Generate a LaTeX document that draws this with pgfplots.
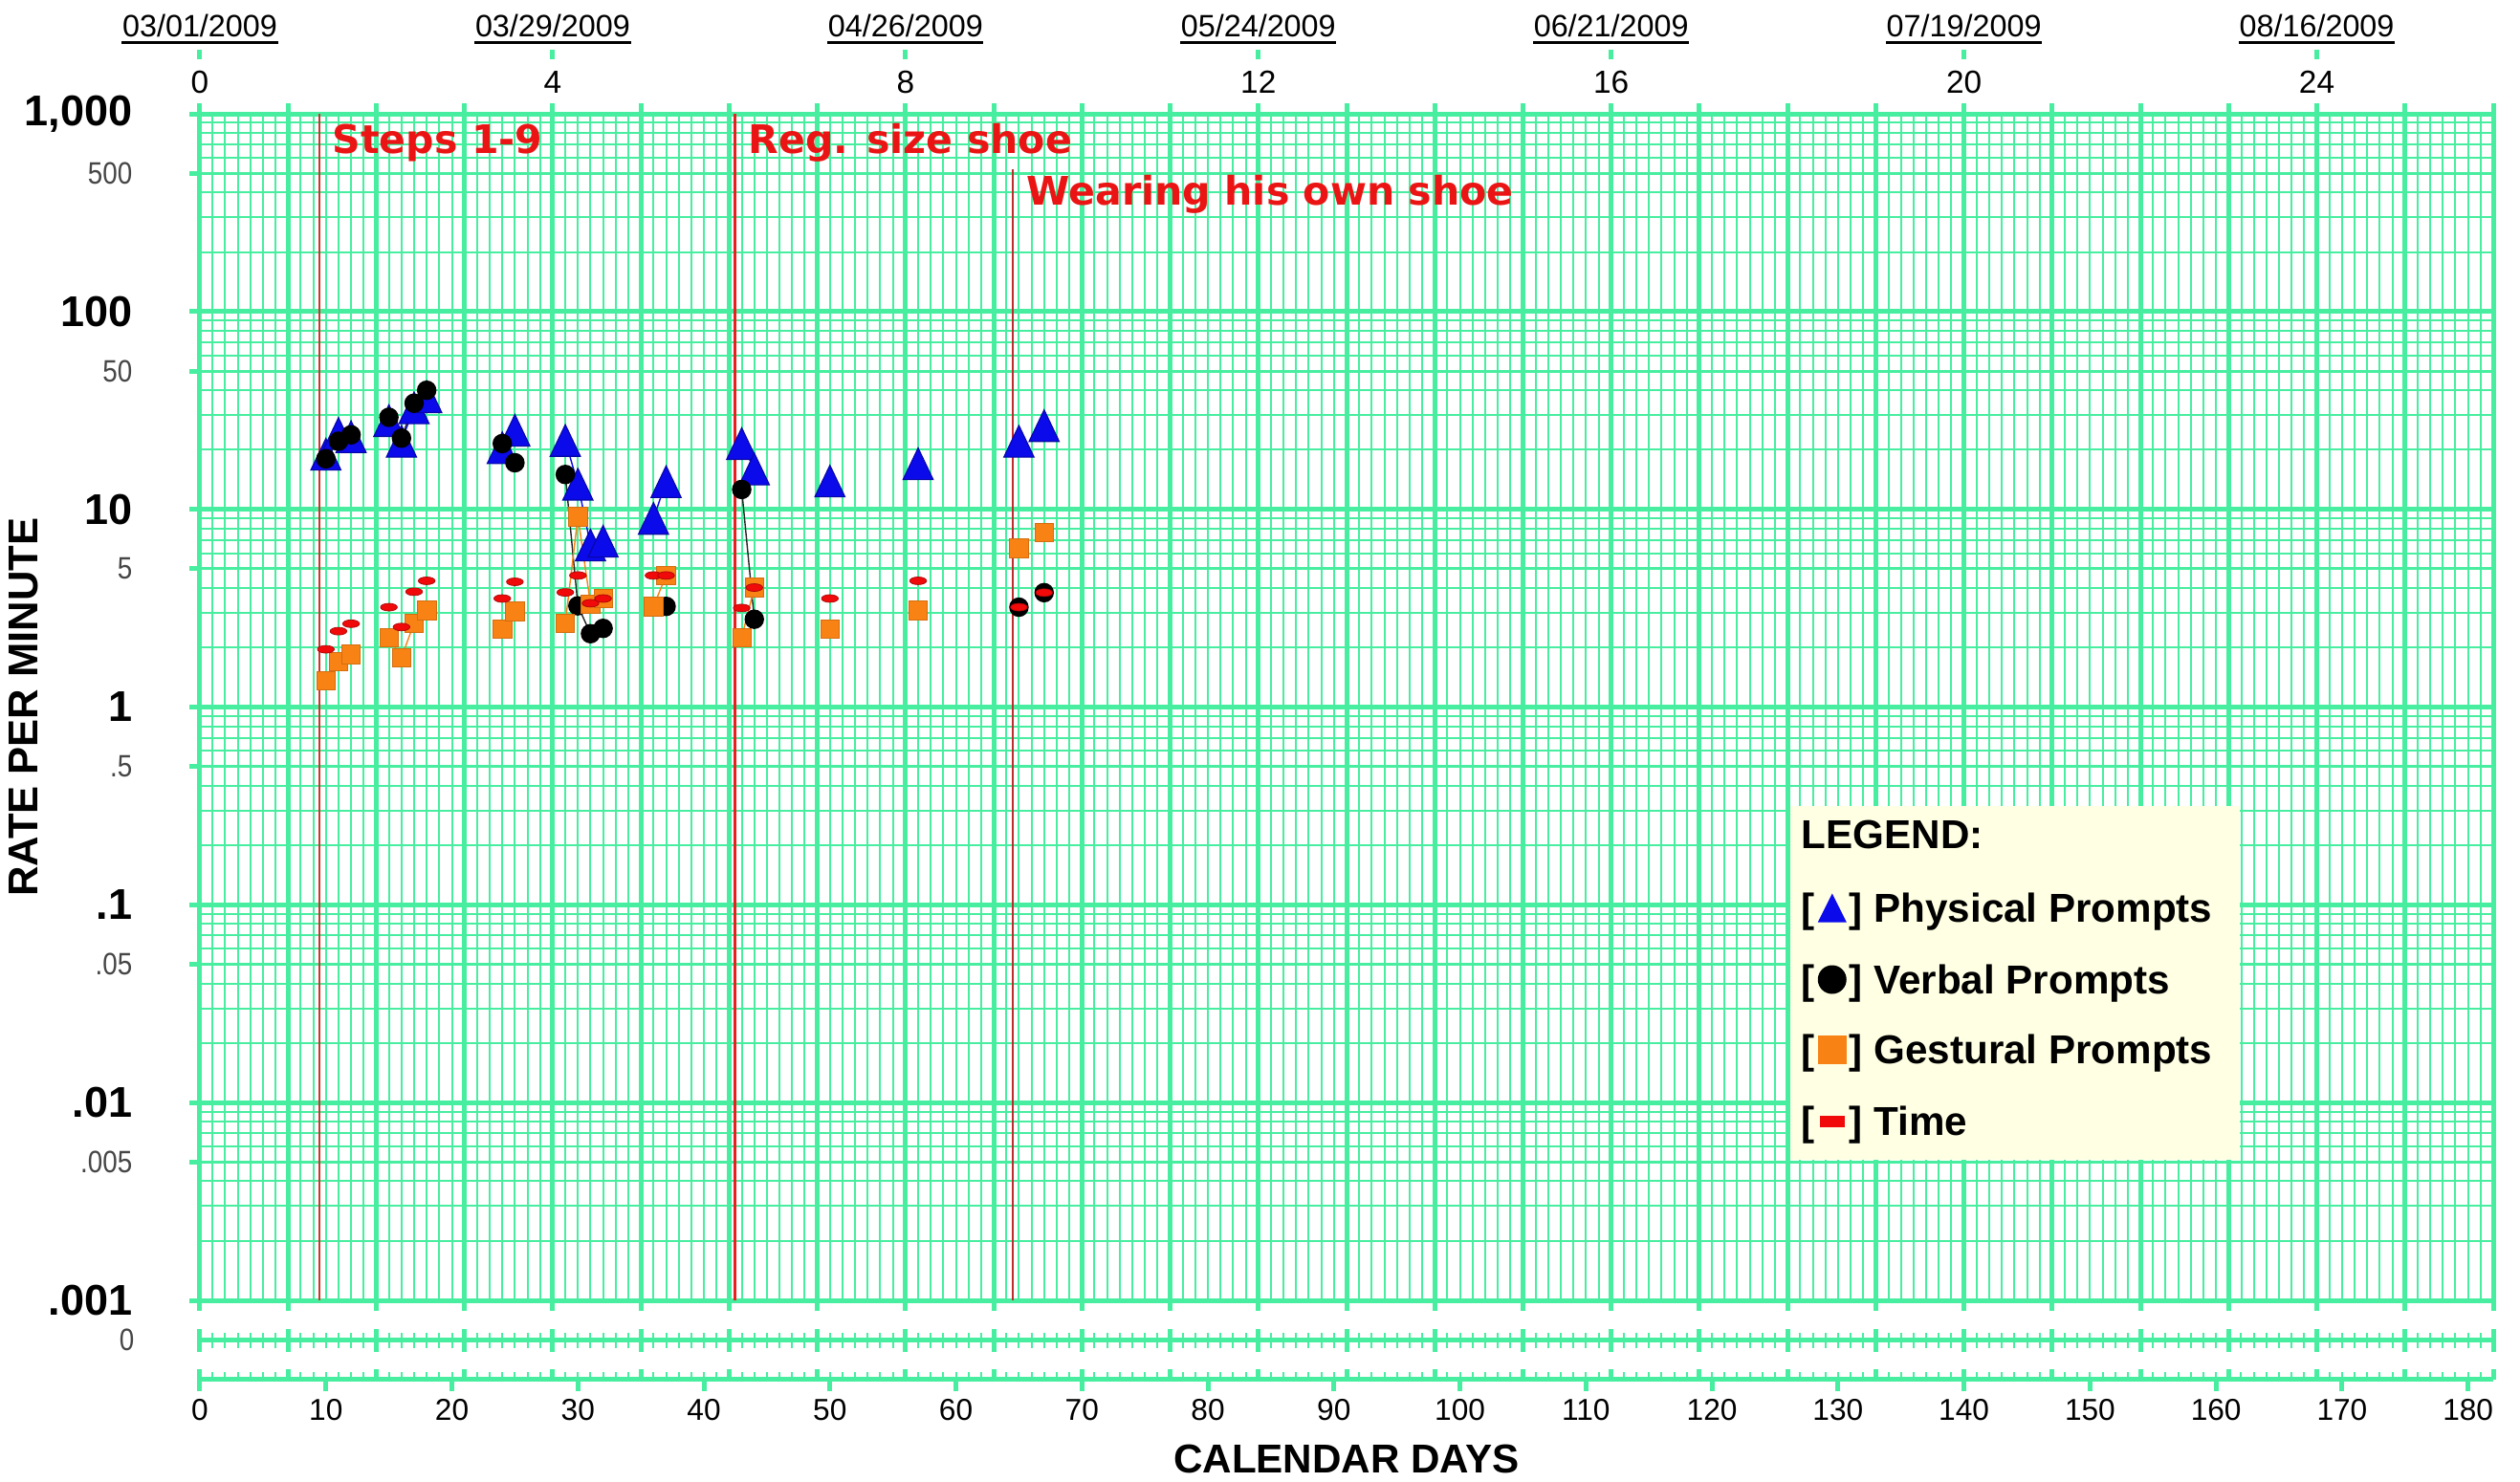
\documentclass[border=0pt]{standalone}
\usepackage{fontspec}
\setmainfont{Liberation Sans}
\newfontfamily\dejavu{DejaVu Sans}
\newfontfamily\narrowfont{Liberation Sans}[FakeStretch=0.86]
\usepackage{pgfplots}
\pgfplotsset{compat=1.18}
\definecolor{gridgreen}{RGB}{72,238,160}
\definecolor{triblue}{RGB}{10,10,235}
\definecolor{sqorange}{RGB}{248,130,20}
\definecolor{timered}{RGB}{240,10,10}
\definecolor{phasered}{RGB}{235,20,20}
\definecolor{phaseA}{RGB}{200,55,45}
\definecolor{phaseB}{RGB}{235,30,30}
\definecolor{phaseC}{RGB}{190,45,45}
\definecolor{legcream}{RGB}{255,255,228}
\definecolor{labgray}{RGB}{70,70,70}

\pgfdeclareplotmark{ctri}{%
  \pgfpathmoveto{\pgfqpoint{0pt}{1.05\pgfplotmarksize}}%
  \pgfpathlineto{\pgfqpoint{-\pgfplotmarksize}{-1.05\pgfplotmarksize}}%
  \pgfpathlineto{\pgfqpoint{\pgfplotmarksize}{-1.05\pgfplotmarksize}}%
  \pgfpathclose\pgfusepathqfillstroke}

\newcommand\datelbl[2]{%
  \node[anchor=base, inner sep=0pt, font=\fontsize{9.2}{11}\selectfont] (dl#1) at ({#1*7*1.317582mm},132.1mm) {#2};
  \draw[line width=0.3mm] ([yshift=-0.6mm]dl#1.base west) -- ([yshift=-0.6mm]dl#1.base east);
  \draw[gridgreen, line width=0.5mm] ({#1*7*1.317582mm},129.8mm) -- ++(0,1.0mm);}

\newcommand\legtri{\tikz[baseline={(0,-1.5mm)}]\fill[triblue] (-1.5mm,-1.5mm) -- (1.5mm,-1.5mm) -- (0,1.5mm) -- cycle;}
\newcommand\legcirc{\tikz[baseline={(0,-1.5mm)}]\fill[black] (0,0) circle (1.5mm);}
\newcommand\legsq{\tikz[baseline={(0,-1.5mm)}]\fill[sqorange] (-1.5mm,-1.5mm) rectangle (1.5mm,1.5mm);}
\newcommand\legtime{\tikz[baseline={(0,-1.5mm)}]{\path (-1.5mm,-1.5mm) rectangle (1.5mm,1.5mm); \fill[timered] (-1.3mm,-0.6mm) rectangle (1.3mm,0.6mm);}}

\begin{document}
\begin{tikzpicture}
\path[use as bounding box] (-20.9mm,-18.9mm) rectangle (242.6mm,136.0mm);
\begin{axis}[
  at={(0,0)}, anchor=south west,
  scale only axis, width=239.8mm, height=124.1mm,
  xmin=0, xmax=182, ymin=0.001, ymax=1000,
  ymode=log, log basis y=10,
  clip=false,
  unbounded coords=jump,
  axis line style={gridgreen, line width=0.5mm},
  grid=both,
  major grid style={gridgreen, line width=0.5mm},
  minor grid style={gridgreen, line width=0.2mm},
  xtick={0,7,...,182},
  minor x tick num=6,
  xtick pos=both,
  xticklabel pos=upper,
  xticklabels={0,,,,4,,,,8,,,,12,,,,16,,,,20,,,,24,,},
  xticklabel style={font=\fontsize{9.5}{10}\selectfont, inner sep=0pt, anchor=south, yshift=1.0mm},
  ytick={0.001,0.01,0.1,1,10,100,1000},
  yticklabels={.001,.01,.1,1,10,100,{1,000}},
  yticklabel style={font=\bfseries\fontsize{12.8}{14}\selectfont, inner sep=0pt, anchor=east, xshift=-5.9mm},
  minor ytick={0.002,0.003,0.004,0.006,0.007,0.008,0.009,
    0.02,0.03,0.04,0.06,0.07,0.08,0.09,
    0.2,0.3,0.4,0.6,0.7,0.8,0.9,
    2,3,4,6,7,8,9,
    20,30,40,60,70,80,90,
    200,300,400,600,700,800,900},
  extra y ticks={0.005,0.05,0.5,5,50,500},
  extra y tick labels={.005,.05,.5,5,50,500},
  extra y tick style={grid=major, major grid style={gridgreen, line width=0.3mm},
    yticklabel style={font=\narrowfont\fontsize{9.2}{10}\selectfont, text=labgray}},
  ytick pos=left,
  tick align=outside,
  major tick length=1.1mm,
  minor tick length=0pt,
  tick style={gridgreen, line width=0.5mm},
  xlabel={CALENDAR DAYS}, ylabel={RATE PER MINUTE},
  xlabel style={at={(axis description cs:0.5,-0.1338)}, anchor=center, font=\bfseries\fontsize{12}{14}\selectfont},
  ylabel style={at={(axis description cs:-0.0767,0.5)}, anchor=center, font=\bfseries\fontsize{12.4}{14}\selectfont},
]
% phase change lines
\addplot[phaseA, line width=0.25mm, forget plot] coordinates {(9.5,0.001) (9.5,1000)};
\addplot[phaseB, line width=0.3mm, forget plot] coordinates {(42.5,0.001) (42.5,1000)};
\addplot[phaseC, line width=0.22mm, forget plot] coordinates {(64.5,0.001) (64.5,526)};

% Physical prompts
\addplot[triblue, line width=0.4pt, mark=ctri, mark size=1.58mm,
  mark options={solid, fill=triblue, draw=triblue!70!black, line width=0.3pt}] table {
x y
10 19.0
11 24.2
12 23.3
13 nan
15 28.1
16 22.1
17 32.6
18 37.1
19 nan
24 20.5
25 25.1
26 nan
29 22.3
30 13.4
31 6.6
32 6.9
33 nan
36 9.0
37 13.8
38 nan
43 21.5
44 16.0
45 nan
50 13.9
51 nan
57 17.0
58 nan
65 22.1
66 nan
67 26.5
};
% Verbal prompts
\addplot[black!85, line width=0.4pt, mark=*, mark size=0.95mm,
  mark options={solid, fill=black, draw=black}] table {
x y
10 18.0
11 22.1
12 23.8
13 nan
15 29.2
16 22.9
17 34.4
18 40.0
19 nan
24 21.5
25 17.2
26 nan
29 15.0
30 3.25
31 2.35
32 2.5
33 nan
37 3.23
38 nan
43 12.6
44 2.78
45 nan
65 3.2
66 nan
67 3.79
};
% Gestural prompts
\addplot[sqorange, line width=0.4pt, mark=square*, mark size=0.97mm,
  mark options={solid, fill=sqorange, draw=sqorange!85!black, line width=0.2pt}] table {
x y
10 1.36
11 1.70
12 1.85
13 nan
15 2.25
16 1.78
17 2.66
18 3.08
19 nan
24 2.49
25 3.05
26 nan
29 2.66
30 9.2
31 3.32
32 3.54
33 nan
36 3.23
37 4.63
38 nan
43 2.25
44 4.02
45 nan
50 2.49
51 nan
57 3.08
58 nan
65 6.37
66 nan
67 7.66
};
% Time
\addplot[only marks, mark=*, mark size=0.4mm,
  mark options={xscale=2.2, fill=timered, draw=timered!70!black, line width=0.2pt}] table {
x y
10 1.96
11 2.42
12 2.64
15 3.20
16 2.54
17 3.83
18 4.35
24 3.54
25 4.30
29 3.80
30 4.63
31 3.35
32 3.54
36 4.63
37 4.63
43 3.17
44 4.02
50 3.54
57 4.35
65 3.20
67 3.79
};
\end{axis}

% phase labels
\begin{scope}[every node/.style={anchor=base west, inner sep=0pt, text=phasered, font=\dejavu\bfseries\fontsize{11.7}{14}\selectfont}]
\node at (13.8mm,119.9mm) {Steps 1-9};
\node at (57.3mm,119.9mm) {Reg. size shoe};
\node at (86.4mm,114.5mm) {Wearing his own shoe};
\end{scope}

% dates on top
\datelbl{0}{03/01/2009}
\datelbl{4}{03/29/2009}
\datelbl{8}{04/26/2009}
\datelbl{12}{05/24/2009}
\datelbl{16}{06/21/2009}
\datelbl{20}{07/19/2009}
\datelbl{24}{08/16/2009}

% zero row and bottom ruler
\begin{scope}[gridgreen]
 \draw[line width=0.5mm] (0,-4.17mm) -- (239.8mm,-4.17mm);
 \foreach \d in {0,...,182} \draw[line width=0.2mm] ({\d*1.317582mm},-4.97mm) -- ({\d*1.317582mm},-3.37mm);
 \foreach \w in {0,...,26} \draw[line width=0.5mm] ({\w*7*1.317582mm},-5.37mm) -- ({\w*7*1.317582mm},-2.97mm);
 \draw[line width=0.5mm] (0,-8.27mm) -- (239.8mm,-8.27mm);
 \foreach \d in {0,...,182} \draw[line width=0.2mm] ({\d*1.317582mm},-8.27mm) -- ++(0,0.8mm);
 \foreach \w in {0,...,26} \draw[line width=0.5mm] ({\w*7*1.317582mm},-8.27mm) -- ++(0,1.1mm);
 \foreach \d in {0,10,...,180} \draw[line width=0.5mm] ({\d*1.317582mm},-8.27mm) -- ++(0,-1.2mm);
\end{scope}
\node[anchor=east, inner sep=0pt, text=labgray, font=\narrowfont\fontsize{9.2}{10}\selectfont] at (-6.8mm,-4.17mm) {0};
\foreach \d in {0,10,...,180} \node[font=\fontsize{9}{10}\selectfont, inner sep=0pt] at ({\d*1.317582mm},-11.5mm) {\d};

% legend
\fill[legcream] (166.3mm,14.7mm) rectangle (213.3mm,51.7mm);
\node[anchor=base west, inner sep=0pt, font=\bfseries\fontsize{12}{14}\selectfont] at (167.4mm,47.25mm) {LEGEND:};
\node[anchor=base west, inner sep=0pt, font=\bfseries\fontsize{12}{14}\selectfont] at (167.4mm,39.55mm) {[\hspace{0.3mm}\legtri\hspace{0.3mm}] Physical Prompts};
\node[anchor=base west, inner sep=0pt, font=\bfseries\fontsize{12}{14}\selectfont] at (167.4mm,32.05mm) {[\hspace{0.3mm}\legcirc\hspace{0.3mm}] Verbal Prompts};
\node[anchor=base west, inner sep=0pt, font=\bfseries\fontsize{12}{14}\selectfont] at (167.4mm,24.75mm) {[\hspace{0.3mm}\legsq\hspace{0.3mm}] Gestural Prompts};
\node[anchor=base west, inner sep=0pt, font=\bfseries\fontsize{12}{14}\selectfont] at (167.4mm,17.25mm) {[\hspace{0.3mm}\legtime\hspace{0.3mm}] Time};
\end{tikzpicture}
\end{document}
